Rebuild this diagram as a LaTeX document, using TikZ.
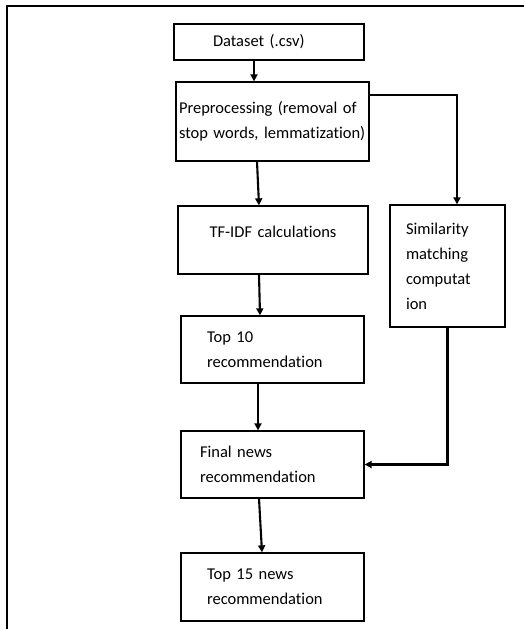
\documentclass[tikz,border=0pt]{standalone}
\usepackage{fontspec}
\setmainfont{Carlito}[Ligatures=NoCommon]
\usetikzlibrary{arrows.meta}
\tikzset{
  box/.style={draw, line width=1.3pt, inner ysep=2pt,
    font=\fontsize{16.5}{25}\selectfont},
  flow/.style={draw, line width=2.1pt, -{Triangle[length=7pt,width=7pt]}}
}
\begin{document}
\begin{tikzpicture}[x=1pt,y=-1pt]
      \useasboundingbox (0,0) rectangle (524,629);
      \draw[line width=1.2pt] (524,6) -- (7,6) -- (7,629);
      \def \Boxes {
        data/269/42/36/39/112/left/{Dataset (.csv)},
        prep/272.5/121.5/79/3/187/left/{Preprocessing (removal of\\ stop words, lemmatization)},
        tfidf/273/240/68/5/180/center/{TF-IDF calculations\\[-9pt]\mbox{}},
        sim/447.5/266/122/16/83/left/{Similarity\\ matching\\ computat\\ ion},
        top10/272.5/349.5/67/26/131/left/{Top 10\\ recommendation},
        final/272.5/464.5/67/19/145/left/{Final news\\ recommendation},
        top15/272.5/587/68/26/131/left/{Top 15 news\\ recommendation}}
      \def \Edges {
        data/-15/prep/-18.5,
        prep/-15.5/tfidf/-14,
        tfidf/-14/top10/-12.5,
        top10/-14.5/final/-14.5,
        final/-13.5/top15/-10.5}

      \foreach \id / \x / \y / \h / \ind / \tw / \al / \txt in \Boxes {
        \node[box, minimum height=\h pt, inner xsep=\ind pt, text width=\tw pt, align=\al] (\id) at (\x, \y) {\txt};
      }
      \foreach \a / \sa / \b / \sb in \Edges {
        \path[flow] ([xshift=\sa pt]\a.south) -- ([xshift=\sb pt]\b.north);
      }
      % side branch
      \path[flow] ([yshift=26.5pt]prep.east) -| ([xshift=9.5pt]sim.north);
      \path[flow] (sim.south) |- (final.east);
    \end{tikzpicture}
\end{document}
